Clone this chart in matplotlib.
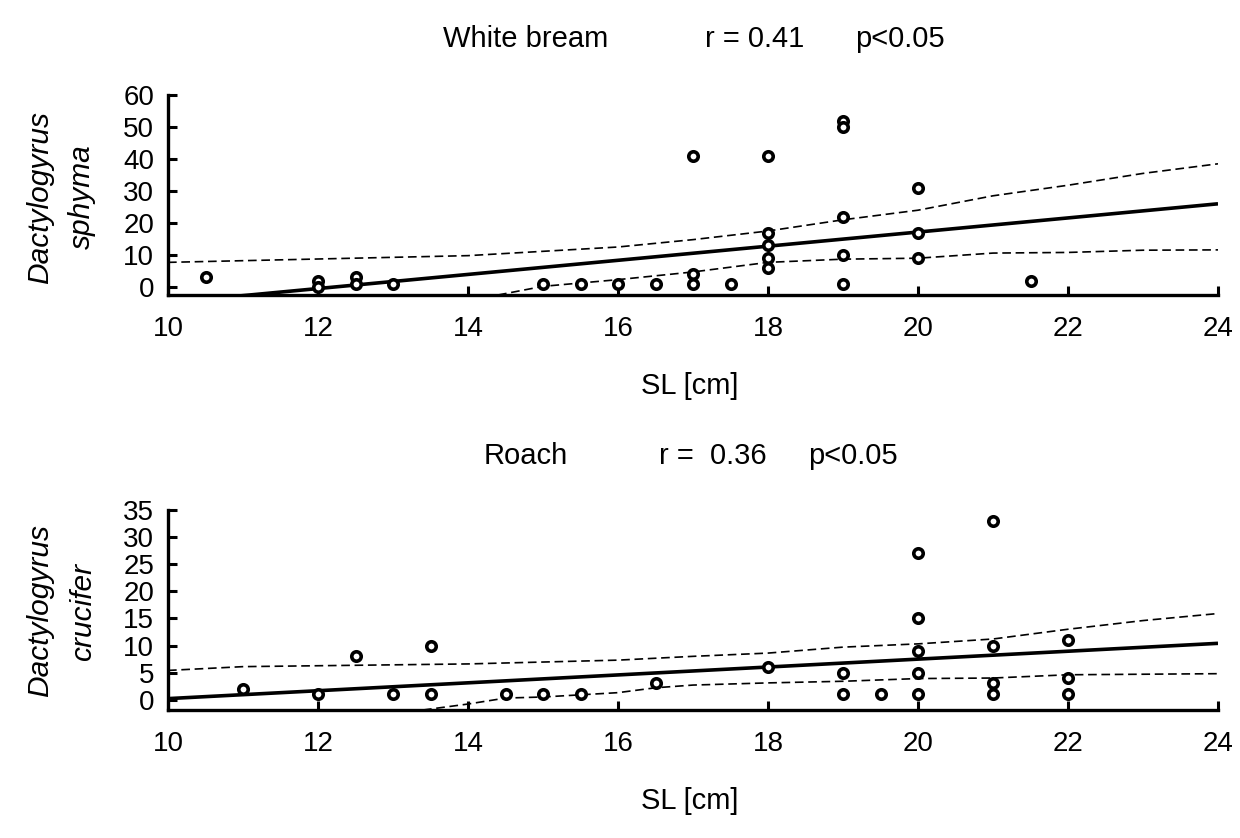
import matplotlib
matplotlib.use("Agg")
import matplotlib.pyplot as plt

plt.rcParams['font.family'] = ['Liberation Sans', 'DejaVu Sans']

# ---- data ----
# White bream, Dactylogyrus sphyrna
wb_sl = [10.5, 12, 12, 12.5, 12.5, 13, 15, 15.5, 16, 16.5, 17, 17, 17, 17.5,
         18, 18, 18, 18, 18, 19, 19, 19, 19, 19, 20, 20, 20, 21.5]
wb_val = [3, 2, 0, 3, 1, 1, 1, 1, 1, 1, 4, 1, 41, 1,
          41, 17, 13, 9, 6, 52, 50, 22, 10, 1, 31, 17, 9, 2]
wb_fit_x = [10, 24]
wb_fit_y = [-4.9, 26.0]
wb_up_x = [10, 14, 16, 17, 18, 19, 20, 21, 22, 23, 24]
wb_up_y = [7.7, 9.8, 12.5, 14.8, 17.5, 21, 24, 28.5, 31.8, 35.5, 38.5]
wb_lo_x = [14.4, 15, 16, 17, 18, 19, 20, 21, 22, 23, 24]
wb_lo_y = [-2.5, 0.2, 2.3, 4.7, 7.7, 8.7, 9.0, 10.6, 10.8, 11.5, 11.6]

# Roach, Dactylogyrus crucifer
ro_sl = [11, 12, 12.5, 13, 13.5, 13.5, 14.5, 15, 15.5, 16.5, 18, 19, 19, 19.5,
         20, 20, 20, 20, 20, 21, 21, 21, 21, 22, 22, 22]
ro_val = [2, 1, 8, 1, 10, 1, 1, 1, 1, 3, 6, 5, 1, 1,
          27, 15, 9, 5, 1, 33, 10, 3, 1, 11, 4, 1]
ro_fit_x = [10, 24]
ro_fit_y = [0.2, 10.4]
ro_up_x = [10, 11, 14, 16, 17, 18, 19, 20, 21, 22, 23, 24]
ro_up_y = [5.4, 6.1, 6.6, 7.3, 8.0, 8.6, 9.7, 10.3, 11.2, 13.0, 14.6, 15.9]
ro_lo_x = [13.4, 14, 14.5, 15, 15.5, 16, 16.5, 17, 18, 19, 20, 21, 22, 23, 24]
ro_lo_y = [-1.9, -0.8, 0.3, 0.5, 0.9, 1.3, 2.2, 2.7, 3.1, 3.4, 3.9, 4.0, 4.6,
           4.7, 4.8]

x_ticks = [10, 12, 14, 16, 18, 20, 22, 24]

W, H = 1240, 838
fig = plt.figure(figsize=(W / 100, H / 100), dpi=100)


def px_axes(l, t, r, b):
    return fig.add_axes([l / W, 1 - b / H, (r - l) / W, (b - t) / H])


def panel(ax, sl, val, fx, fy, ux, uy, lx, ly, ylim, yticks):
    ax.plot(fx, fy, color='black', lw=2.6, solid_capstyle='butt')
    ax.plot(ux, uy, color='black', lw=1.2, dashes=(5.2, 2.8))
    ax.plot(lx, ly, color='black', lw=1.2, dashes=(5.2, 2.8))
    ax.plot(sl, val, 'o', mfc='white', mec='black', ms=6.8, mew=2.6)
    ax.set_xlim(10, 24)
    ax.set_ylim(*ylim)
    ax.set_xticks(x_ticks)
    ax.set_yticks(yticks)
    for s in ['top', 'right']:
        ax.spines[s].set_visible(False)
    for s in ['left', 'bottom']:
        ax.spines[s].set_linewidth(2.4)
    ax.tick_params(direction='in', length=6.7, width=2.2, labelsize=20)
    ax.tick_params(axis='x', pad=15)
    ax.tick_params(axis='y', pad=10)


ax1 = px_axes(168, 95, 1218, 295)
panel(ax1, wb_sl, wb_val, wb_fit_x, wb_fit_y, wb_up_x, wb_up_y,
      wb_lo_x, wb_lo_y, (-2.5, 60), range(0, 61, 10))

ax2 = px_axes(168, 510, 1218, 710)
panel(ax2, ro_sl, ro_val, ro_fit_x, ro_fit_y, ro_up_x, ro_up_y,
      ro_lo_x, ro_lo_y, (-1.9, 35), range(0, 36, 5))


def ftext(x, y, s, size=21, **kw):
    fig.text(x / W, 1 - y / H, s, ha='center', va='center', fontsize=size, **kw)


# titles
ftext(526, 39, 'White bream')
ftext(755, 39, 'r = 0.41')
ftext(900, 39, 'p<0.05')
ftext(526, 456, 'Roach')
ftext(713, 456, 'r =  0.36')
ftext(853, 456, 'p<0.05')

# axis labels
ftext(690, 386, 'SL [cm]')
ftext(690, 801, 'SL [cm]')
ftext(40, 197, 'Dactylogyrus', size=21.5, rotation=90, style='italic')
ftext(82, 197, 'sphyma', size=21.5, rotation=90, style='italic')
ftext(40, 610, 'Dactylogyrus', size=21.5, rotation=90, style='italic')
ftext(83, 612, 'crucifer', size=21.5, rotation=90, style='italic')

fig.savefig('out.png', dpi=100)
